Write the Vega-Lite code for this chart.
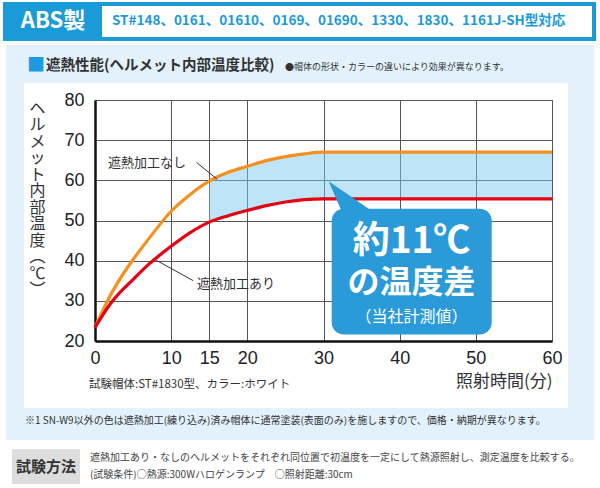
{
  "$schema": "https://vega.github.io/schema/vega-lite/v6.json",
  "width": 457,
  "height": 241,
  "autosize": {"type": "none"},
  "padding": {"left": 95, "top": 100, "right": 48, "bottom": 147},
  "background": "white",
  "config": {
    "view": {"stroke": "#555555", "strokeWidth": 1},
    "font": "Noto Sans CJK JP",
    "axis": {"grid": true, "gridColor": "#555555", "gridWidth": 1, "domain": true, "domainColor": "#111111", "domainWidth": 2.5, "ticks": false, "labelFont": "Liberation Sans", "labelFontSize": 18, "labelColor": "#222222", "labelFlush": false, "labelOverlap": false, "titleFont": "Noto Sans CJK JP", "titleFontWeight": "normal", "titleColor": "#333333"},
    "axisX": {"labelPadding": 8, "titleFontSize": 17, "titleAnchor": "end", "titlePadding": 6},
    "axisY": {"labelPadding": 11, "titleFontSize": 16}
  },
  "datasets": {
    "curve": [
      {"t": 0, "nashi": 23.4, "ari": 23.4},
      {"t": 1, "nashi": 27.5, "ari": 26.4},
      {"t": 2, "nashi": 31.3, "ari": 29.2},
      {"t": 3, "nashi": 34.6, "ari": 31.5},
      {"t": 5, "nashi": 40.3, "ari": 35.3},
      {"t": 7, "nashi": 45.3, "ari": 39.0},
      {"t": 10, "nashi": 52.3, "ari": 43.6},
      {"t": 12.5, "nashi": 56.5, "ari": 47.0},
      {"t": 15, "nashi": 59.8, "ari": 49.6},
      {"t": 17.5, "nashi": 62.0, "ari": 51.2},
      {"t": 20, "nashi": 63.5, "ari": 52.5},
      {"t": 22.5, "nashi": 64.9, "ari": 53.7},
      {"t": 25, "nashi": 65.9, "ari": 54.6},
      {"t": 27.5, "nashi": 66.6, "ari": 55.2},
      {"t": 30, "nashi": 67.0, "ari": 55.4},
      {"t": 60, "nashi": 67.0, "ari": 55.4}
    ],
    "frame": [
      {"x": -11.69, "x2": 65.52, "y": 93.69, "y2": 84.23},
      {"x": -11.69, "x2": 65.52, "y": 3.32, "y2": -4.65},
      {"x": -11.69, "x2": -9.32, "y": 84.23, "y2": 3.32},
      {"x": 62.10, "x2": 65.52, "y": 84.23, "y2": 3.32}
    ],
    "pointer": [
      {"x": 30.68, "y": 59.8, "y2": 59.8},
      {"x": 32.44, "y": 57.49, "y2": 52.0},
      {"x": 35.93, "y": 52.9, "y2": 52.0}
    ],
    "leaders": [
      {"x": 13.33, "y": 64.45, "x2": 16.05, "y2": 60.26},
      {"x": 12.87, "y": 35.05, "x2": 8.05, "y2": 40.09}
    ],
    "curveLabels": [
      {"label": "遮熱加工なし", "x": 1.71, "y": 64.24},
      {"label": "遮熱加工あり", "x": 13.39, "y": 34.19}
    ]
  },
  "layer": [
    {
      "data": {"name": "curve"},
      "transform": [{"filter": "datum.t >= 15"}],
      "mark": {"type": "area", "interpolate": "monotone", "color": "#7ccbf0", "opacity": 0.5},
      "encoding": {
        "x": {"field": "t", "type": "quantitative", "scale": {"domain": [0, 60], "nice": false, "zero": false}, "axis": {"values": [0, 10, 15, 20, 30, 40, 50, 60], "tickCount": 8, "title": "照射時間(分)"}},
        "y": {"field": "ari", "type": "quantitative", "scale": {"domain": [20, 80], "nice": false, "zero": false}, "axis": {"values": [20, 30, 40, 50, 60, 70, 80], "tickCount": 7, "title": ["ヘ", "ル", "メ", "ッ", "ト", "内", "部", "温", "度", "︵", "℃", "︶"], "titleAngle": 0, "titleX": -58, "titleY": 0, "titleAlign": "center", "titleBaseline": "top", "titleLineHeight": 16.5}},
        "y2": {"field": "nashi"}
      }
    },
    {
      "data": {"name": "curve"},
      "mark": {"type": "line", "interpolate": "monotone", "color": "#f5901e", "strokeWidth": 3.2},
      "encoding": {
        "x": {"field": "t", "type": "quantitative", "axis": {"values": [0, 10, 15, 20, 30, 40, 50, 60], "tickCount": 8, "title": "照射時間(分)"}},
        "y": {"field": "nashi", "type": "quantitative", "axis": {"values": [20, 30, 40, 50, 60, 70, 80], "tickCount": 7, "title": ["ヘ", "ル", "メ", "ッ", "ト", "内", "部", "温", "度", "︵", "℃", "︶"], "titleAngle": 0, "titleX": -58, "titleY": 0, "titleAlign": "center", "titleBaseline": "top", "titleLineHeight": 16.5}}
      }
    },
    {
      "data": {"name": "curve"},
      "mark": {"type": "line", "interpolate": "monotone", "color": "#e60012", "strokeWidth": 3.2},
      "encoding": {
        "x": {"field": "t", "type": "quantitative", "axis": {"values": [0, 10, 15, 20, 30, 40, 50, 60], "tickCount": 8, "title": "照射時間(分)"}},
        "y": {"field": "ari", "type": "quantitative", "axis": {"values": [20, 30, 40, 50, 60, 70, 80], "tickCount": 7, "title": ["ヘ", "ル", "メ", "ッ", "ト", "内", "部", "温", "度", "︵", "℃", "︶"], "titleAngle": 0, "titleX": -58, "titleY": 0, "titleAlign": "center", "titleBaseline": "top", "titleLineHeight": 16.5}}
      }
    },
    {
      "data": {"name": "leaders"},
      "mark": {"type": "rule", "color": "#333333", "strokeWidth": 1},
      "encoding": {
        "x": {"field": "x", "type": "quantitative", "axis": {"values": [0, 10, 15, 20, 30, 40, 50, 60], "tickCount": 8, "title": "照射時間(分)"}},
        "y": {"field": "y", "type": "quantitative", "axis": {"values": [20, 30, 40, 50, 60, 70, 80], "tickCount": 7, "title": ["ヘ", "ル", "メ", "ッ", "ト", "内", "部", "温", "度", "︵", "℃", "︶"], "titleAngle": 0, "titleX": -58, "titleY": 0, "titleAlign": "center", "titleBaseline": "top", "titleLineHeight": 16.5}},
        "x2": {"field": "x2"},
        "y2": {"field": "y2"}
      }
    },
    {
      "data": {"name": "curveLabels"},
      "mark": {"type": "text", "font": "Noto Sans CJK JP", "fontSize": 13, "color": "#333333", "align": "left", "baseline": "middle", "clip": false},
      "encoding": {
        "x": {"field": "x", "type": "quantitative", "axis": {"values": [0, 10, 15, 20, 30, 40, 50, 60], "tickCount": 8, "title": "照射時間(分)"}},
        "y": {"field": "y", "type": "quantitative", "axis": {"values": [20, 30, 40, 50, 60, 70, 80], "tickCount": 7, "title": ["ヘ", "ル", "メ", "ッ", "ト", "内", "部", "温", "度", "︵", "℃", "︶"], "titleAngle": 0, "titleX": -58, "titleY": 0, "titleAlign": "center", "titleBaseline": "top", "titleLineHeight": 16.5}},
        "text": {"field": "label"}
      }
    },
    {
      "data": {"name": "pointer"},
      "mark": {"type": "area", "color": "#2a9ad8", "clip": false},
      "encoding": {
        "x": {"field": "x", "type": "quantitative", "axis": {"values": [0, 10, 15, 20, 30, 40, 50, 60], "tickCount": 8, "title": "照射時間(分)"}},
        "y": {"field": "y", "type": "quantitative", "axis": {"values": [20, 30, 40, 50, 60, 70, 80], "tickCount": 7, "title": ["ヘ", "ル", "メ", "ッ", "ト", "内", "部", "温", "度", "︵", "℃", "︶"], "titleAngle": 0, "titleX": -58, "titleY": 0, "titleAlign": "center", "titleBaseline": "top", "titleLineHeight": 16.5}},
        "y2": {"field": "y2"}
      }
    },
    {
      "data": {"values": [{}]},
      "mark": {"type": "rect", "color": "#2a9ad8", "cornerRadius": 12, "clip": false},
      "encoding": {
        "x": {"datum": 31.08, "type": "quantitative", "axis": {"values": [0, 10, 15, 20, 30, 40, 50, 60], "tickCount": 8, "title": "照射時間(分)"}}, "x2": {"datum": 52.08},
        "y": {"datum": 52.95, "type": "quantitative", "axis": {"values": [20, 30, 40, 50, 60, 70, 80], "tickCount": 7, "title": ["ヘ", "ル", "メ", "ッ", "ト", "内", "部", "温", "度", "︵", "℃", "︶"], "titleAngle": 0, "titleX": -58, "titleY": 0, "titleAlign": "center", "titleBaseline": "top", "titleLineHeight": 16.5}}, "y2": {"datum": 21.59}
      }
    },
    {
      "data": {"values": [{}]},
      "mark": {"type": "text", "text": "約11℃", "font": "Noto Sans CJK JP", "fontWeight": "bold", "fontSize": 37, "color": "white", "align": "center", "baseline": "middle", "clip": false},
      "encoding": {
        "x": {"datum": 41.55, "type": "quantitative", "axis": {"values": [0, 10, 15, 20, 30, 40, 50, 60], "tickCount": 8, "title": "照射時間(分)"}},
        "y": {"datum": 44.7, "type": "quantitative", "axis": {"values": [20, 30, 40, 50, 60, 70, 80], "tickCount": 7, "title": ["ヘ", "ル", "メ", "ッ", "ト", "内", "部", "温", "度", "︵", "℃", "︶"], "titleAngle": 0, "titleX": -58, "titleY": 0, "titleAlign": "center", "titleBaseline": "top", "titleLineHeight": 16.5}}
      }
    },
    {
      "data": {"values": [{}]},
      "mark": {"type": "text", "text": "の温度差", "font": "Noto Sans CJK JP", "fontWeight": "bold", "fontSize": 32, "color": "white", "align": "center", "baseline": "middle", "clip": false},
      "encoding": {
        "x": {"datum": 41.55, "type": "quantitative", "axis": {"values": [0, 10, 15, 20, 30, 40, 50, 60], "tickCount": 8, "title": "照射時間(分)"}},
        "y": {"datum": 34.4, "type": "quantitative", "axis": {"values": [20, 30, 40, 50, 60, 70, 80], "tickCount": 7, "title": ["ヘ", "ル", "メ", "ッ", "ト", "内", "部", "温", "度", "︵", "℃", "︶"], "titleAngle": 0, "titleX": -58, "titleY": 0, "titleAlign": "center", "titleBaseline": "top", "titleLineHeight": 16.5}}
      }
    },
    {
      "data": {"values": [{}]},
      "mark": {"type": "text", "text": "（当社計測値）", "font": "Noto Sans CJK JP", "fontSize": 16, "color": "white", "align": "center", "baseline": "middle", "clip": false},
      "encoding": {
        "x": {"datum": 41.55, "type": "quantitative", "axis": {"values": [0, 10, 15, 20, 30, 40, 50, 60], "tickCount": 8, "title": "照射時間(分)"}},
        "y": {"datum": 26.05, "type": "quantitative", "axis": {"values": [20, 30, 40, 50, 60, 70, 80], "tickCount": 7, "title": ["ヘ", "ル", "メ", "ッ", "ト", "内", "部", "温", "度", "︵", "℃", "︶"], "titleAngle": 0, "titleX": -58, "titleY": 0, "titleAlign": "center", "titleBaseline": "top", "titleLineHeight": 16.5}}
      }
    },
    {
      "data": {"name": "frame"},
      "mark": {"type": "rect", "color": "#e2f1fb", "clip": false},
      "encoding": {
        "x": {"field": "x", "type": "quantitative", "axis": {"values": [0, 10, 15, 20, 30, 40, 50, 60], "tickCount": 8, "title": "照射時間(分)"}},
        "y": {"field": "y", "type": "quantitative", "axis": {"values": [20, 30, 40, 50, 60, 70, 80], "tickCount": 7, "title": ["ヘ", "ル", "メ", "ッ", "ト", "内", "部", "温", "度", "︵", "℃", "︶"], "titleAngle": 0, "titleX": -58, "titleY": 0, "titleAlign": "center", "titleBaseline": "top", "titleLineHeight": 16.5}},
        "x2": {"field": "x2"},
        "y2": {"field": "y2"}
      }
    },
    {
      "data": {"values": [{}]},
      "mark": {"type": "rect", "color": "#1a9ad6", "clip": false},
      "encoding": {
        "x": {"datum": -12.08, "type": "quantitative", "axis": {"values": [0, 10, 15, 20, 30, 40, 50, 60], "tickCount": 8, "title": "照射時間(分)"}}, "x2": {"datum": 65.78},
        "y": {"datum": 104.40, "type": "quantitative", "axis": {"values": [20, 30, 40, 50, 60, 70, 80], "tickCount": 7, "title": ["ヘ", "ル", "メ", "ッ", "ト", "内", "部", "温", "度", "︵", "℃", "︶"], "titleAngle": 0, "titleX": -58, "titleY": 0, "titleAlign": "center", "titleBaseline": "top", "titleLineHeight": 16.5}}, "y2": {"datum": 94.69}
      }
    },
    {
      "data": {"values": [{}]},
      "mark": {"type": "rect", "color": "white", "clip": false},
      "encoding": {
        "x": {"datum": 0.92, "type": "quantitative", "axis": {"values": [0, 10, 15, 20, 30, 40, 50, 60], "tickCount": 8, "title": "照射時間(分)"}}, "x2": {"datum": 65.25},
        "y": {"datum": 103.40, "type": "quantitative", "axis": {"values": [20, 30, 40, 50, 60, 70, 80], "tickCount": 7, "title": ["ヘ", "ル", "メ", "ッ", "ト", "内", "部", "温", "度", "︵", "℃", "︶"], "titleAngle": 0, "titleX": -58, "titleY": 0, "titleAlign": "center", "titleBaseline": "top", "titleLineHeight": 16.5}}, "y2": {"datum": 95.68}
      }
    },
    {
      "data": {"values": [{}]},
      "mark": {"type": "text", "text": "ABS製", "font": "Noto Sans CJK JP", "fontWeight": "bold", "fontSize": 22, "color": "white", "align": "center", "baseline": "middle", "clip": false},
      "encoding": {
        "x": {"datum": -5.51, "type": "quantitative", "axis": {"values": [0, 10, 15, 20, 30, 40, 50, 60], "tickCount": 8, "title": "照射時間(分)"}},
        "y": {"datum": 99.55, "type": "quantitative", "axis": {"values": [20, 30, 40, 50, 60, 70, 80], "tickCount": 7, "title": ["ヘ", "ル", "メ", "ッ", "ト", "内", "部", "温", "度", "︵", "℃", "︶"], "titleAngle": 0, "titleX": -58, "titleY": 0, "titleAlign": "center", "titleBaseline": "top", "titleLineHeight": 16.5}}
      }
    },
    {
      "data": {"values": [{}]},
      "mark": {"type": "text", "text": "ST#148、0161、01610、0169、01690、1330、1830、1161J-SH型対応", "font": "Noto Sans CJK JP", "fontWeight": "bold", "fontSize": 13.5, "color": "#1a9ad6", "align": "left", "baseline": "middle", "clip": false},
      "encoding": {
        "x": {"datum": 2.23, "type": "quantitative", "axis": {"values": [0, 10, 15, 20, 30, 40, 50, 60], "tickCount": 8, "title": "照射時間(分)"}},
        "y": {"datum": 99.55, "type": "quantitative", "axis": {"values": [20, 30, 40, 50, 60, 70, 80], "tickCount": 7, "title": ["ヘ", "ル", "メ", "ッ", "ト", "内", "部", "温", "度", "︵", "℃", "︶"], "titleAngle": 0, "titleX": -58, "titleY": 0, "titleAlign": "center", "titleBaseline": "top", "titleLineHeight": 16.5}}
      }
    },
    {
      "data": {"values": [{}]},
      "mark": {"type": "text", "text": "■", "font": "Noto Sans CJK JP", "fontSize": 18, "color": "#1e9be0", "align": "left", "baseline": "middle", "clip": false},
      "encoding": {
        "x": {"datum": -8.93, "type": "quantitative", "axis": {"values": [0, 10, 15, 20, 30, 40, 50, 60], "tickCount": 8, "title": "照射時間(分)"}},
        "y": {"datum": 88.46, "type": "quantitative", "axis": {"values": [20, 30, 40, 50, 60, 70, 80], "tickCount": 7, "title": ["ヘ", "ル", "メ", "ッ", "ト", "内", "部", "温", "度", "︵", "℃", "︶"], "titleAngle": 0, "titleX": -58, "titleY": 0, "titleAlign": "center", "titleBaseline": "top", "titleLineHeight": 16.5}}
      }
    },
    {
      "data": {"values": [{}]},
      "mark": {"type": "text", "text": "遮熱性能(ヘルメット内部温度比較)", "font": "Noto Sans CJK JP", "fontWeight": "bold", "fontSize": 14.5, "color": "#333333", "align": "left", "baseline": "middle", "clip": false},
      "encoding": {
        "x": {"datum": -6.43, "type": "quantitative", "axis": {"values": [0, 10, 15, 20, 30, 40, 50, 60], "tickCount": 8, "title": "照射時間(分)"}},
        "y": {"datum": 88.46, "type": "quantitative", "axis": {"values": [20, 30, 40, 50, 60, 70, 80], "tickCount": 7, "title": ["ヘ", "ル", "メ", "ッ", "ト", "内", "部", "温", "度", "︵", "℃", "︶"], "titleAngle": 0, "titleX": -58, "titleY": 0, "titleAlign": "center", "titleBaseline": "top", "titleLineHeight": 16.5}}
      }
    },
    {
      "data": {"values": [{}]},
      "mark": {"type": "text", "text": "●帽体の形状・カラーの違いにより効果が異なります。", "font": "Noto Sans CJK JP", "fontSize": 9, "color": "#333333", "align": "left", "baseline": "middle", "clip": false},
      "encoding": {
        "x": {"datum": 24.95, "type": "quantitative", "axis": {"values": [0, 10, 15, 20, 30, 40, 50, 60], "tickCount": 8, "title": "照射時間(分)"}},
        "y": {"datum": 88.21, "type": "quantitative", "axis": {"values": [20, 30, 40, 50, 60, 70, 80], "tickCount": 7, "title": ["ヘ", "ル", "メ", "ッ", "ト", "内", "部", "温", "度", "︵", "℃", "︶"], "titleAngle": 0, "titleX": -58, "titleY": 0, "titleAlign": "center", "titleBaseline": "top", "titleLineHeight": 16.5}}
      }
    },
    {
      "data": {"values": [{}]},
      "mark": {"type": "text", "text": "試験帽体:ST#1830型、カラー:ホワイト", "font": "Noto Sans CJK JP", "fontSize": 11.5, "color": "#333333", "align": "left", "baseline": "middle", "clip": false},
      "encoding": {
        "x": {"datum": -0.79, "type": "quantitative", "axis": {"values": [0, 10, 15, 20, 30, 40, 50, 60], "tickCount": 8, "title": "照射時間(分)"}},
        "y": {"datum": 9.04, "type": "quantitative", "axis": {"values": [20, 30, 40, 50, 60, 70, 80], "tickCount": 7, "title": ["ヘ", "ル", "メ", "ッ", "ト", "内", "部", "温", "度", "︵", "℃", "︶"], "titleAngle": 0, "titleX": -58, "titleY": 0, "titleAlign": "center", "titleBaseline": "top", "titleLineHeight": 16.5}}
      }
    },
    {
      "data": {"values": [{}]},
      "mark": {"type": "text", "text": "※1 SN-W9以外の色は遮熱加工(練り込み)済み帽体に通常塗装(表面のみ)を施しますので、価格・納期が異なります。", "font": "Noto Sans CJK JP", "fontSize": 10, "color": "#333333", "align": "left", "baseline": "middle", "clip": false},
      "encoding": {
        "x": {"datum": -9.19, "type": "quantitative", "axis": {"values": [0, 10, 15, 20, 30, 40, 50, 60], "tickCount": 8, "title": "照射時間(分)"}},
        "y": {"datum": 0.08, "type": "quantitative", "axis": {"values": [20, 30, 40, 50, 60, 70, 80], "tickCount": 7, "title": ["ヘ", "ル", "メ", "ッ", "ト", "内", "部", "温", "度", "︵", "℃", "︶"], "titleAngle": 0, "titleX": -58, "titleY": 0, "titleAlign": "center", "titleBaseline": "top", "titleLineHeight": 16.5}}
      }
    },
    {
      "data": {"values": [{}]},
      "mark": {"type": "rect", "color": "#dddddd", "clip": false},
      "encoding": {
        "x": {"datum": -10.90, "type": "quantitative", "axis": {"values": [0, 10, 15, 20, 30, 40, 50, 60], "tickCount": 8, "title": "照射時間(分)"}}, "x2": {"datum": -1.97},
        "y": {"datum": -6.89, "type": "quantitative", "axis": {"values": [20, 30, 40, 50, 60, 70, 80], "tickCount": 7, "title": ["ヘ", "ル", "メ", "ッ", "ト", "内", "部", "温", "度", "︵", "℃", "︶"], "titleAngle": 0, "titleX": -58, "titleY": 0, "titleAlign": "center", "titleBaseline": "top", "titleLineHeight": 16.5}}, "y2": {"datum": -15.60}
      }
    },
    {
      "data": {"values": [{}]},
      "mark": {"type": "text", "text": "試験方法", "font": "Noto Sans CJK JP", "fontWeight": "bold", "fontSize": 15, "color": "#333333", "align": "center", "baseline": "middle", "clip": false},
      "encoding": {
        "x": {"datum": -6.43, "type": "quantitative", "axis": {"values": [0, 10, 15, 20, 30, 40, 50, 60], "tickCount": 8, "title": "照射時間(分)"}},
        "y": {"datum": -11.37, "type": "quantitative", "axis": {"values": [20, 30, 40, 50, 60, 70, 80], "tickCount": 7, "title": ["ヘ", "ル", "メ", "ッ", "ト", "内", "部", "温", "度", "︵", "℃", "︶"], "titleAngle": 0, "titleX": -58, "titleY": 0, "titleAlign": "center", "titleBaseline": "top", "titleLineHeight": 16.5}}
      }
    },
    {
      "data": {"values": [{}]},
      "mark": {"type": "text", "text": "遮熱加工あり・なしのヘルメットをそれぞれ同位置で初温度を一定にして熱源照射し、測定温度を比較する。", "font": "Noto Sans CJK JP", "fontSize": 10, "color": "#444444", "align": "left", "baseline": "middle", "clip": false},
      "encoding": {
        "x": {"datum": -0.66, "type": "quantitative", "axis": {"values": [0, 10, 15, 20, 30, 40, 50, 60], "tickCount": 8, "title": "照射時間(分)"}},
        "y": {"datum": -9.13, "type": "quantitative", "axis": {"values": [20, 30, 40, 50, 60, 70, 80], "tickCount": 7, "title": ["ヘ", "ル", "メ", "ッ", "ト", "内", "部", "温", "度", "︵", "℃", "︶"], "titleAngle": 0, "titleX": -58, "titleY": 0, "titleAlign": "center", "titleBaseline": "top", "titleLineHeight": 16.5}}
      }
    },
    {
      "data": {"values": [{}]},
      "mark": {"type": "text", "text": "(試験条件)○熱源:300Wハロゲンランプ　○照射距離:30cm", "font": "Noto Sans CJK JP", "fontSize": 10, "color": "#444444", "align": "left", "baseline": "middle", "clip": false},
      "encoding": {
        "x": {"datum": -0.66, "type": "quantitative", "axis": {"values": [0, 10, 15, 20, 30, 40, 50, 60], "tickCount": 8, "title": "照射時間(分)"}},
        "y": {"datum": -13.36, "type": "quantitative", "axis": {"values": [20, 30, 40, 50, 60, 70, 80], "tickCount": 7, "title": ["ヘ", "ル", "メ", "ッ", "ト", "内", "部", "温", "度", "︵", "℃", "︶"], "titleAngle": 0, "titleX": -58, "titleY": 0, "titleAlign": "center", "titleBaseline": "top", "titleLineHeight": 16.5}}
      }
    }
  ]
}
